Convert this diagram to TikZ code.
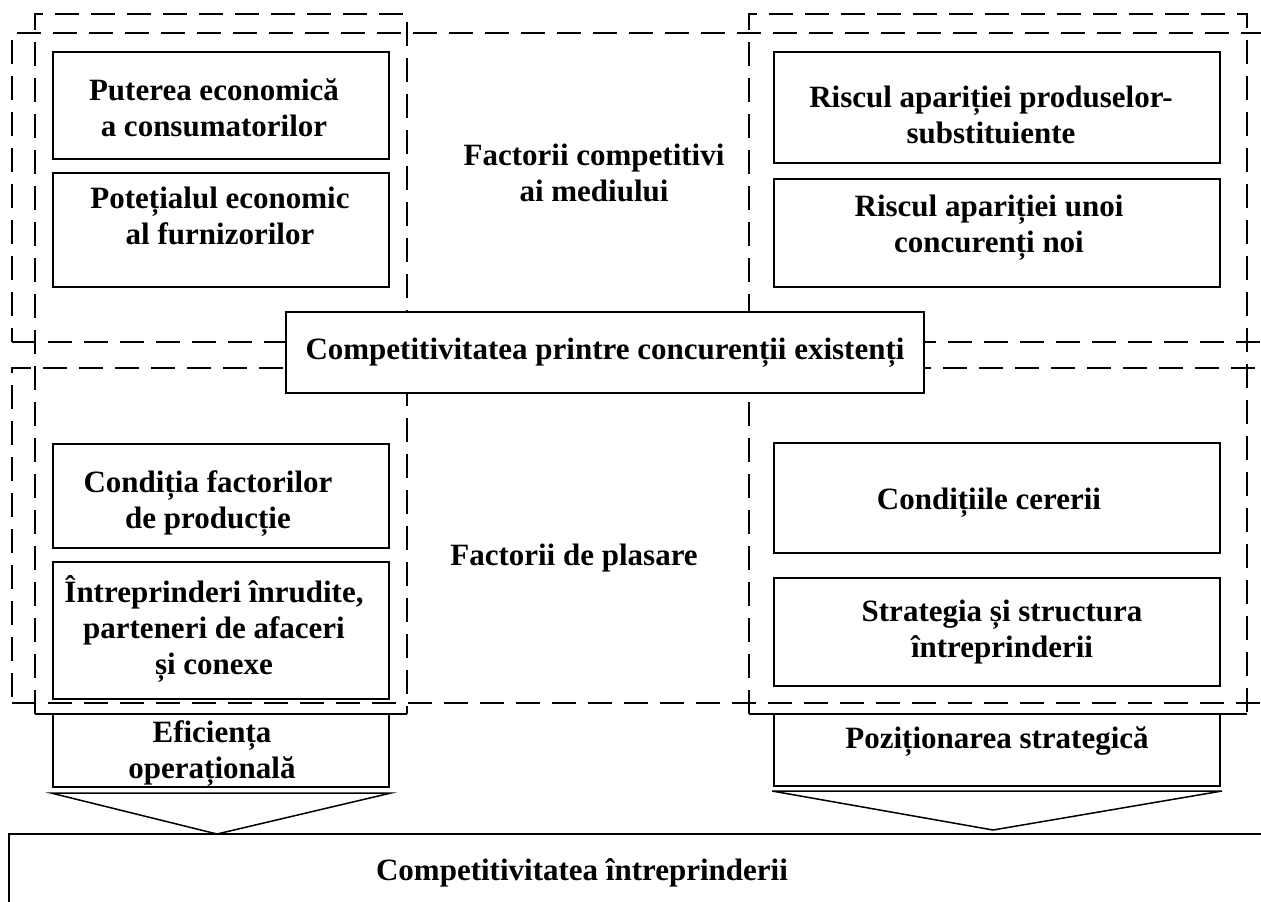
\documentclass[tikz,border=0pt]{standalone}
\usepackage{fontspec}
\setmainfont{Liberation Serif}
\usetikzlibrary{calc}
\newcommand\mlines[1]{\begin{tabular}[t]{@{}c@{}}#1\end{tabular}}
\tikzset{
  boxst/.style={draw, line width=1.6pt, fill=white, rectangle, inner sep=0pt, outer sep=0pt, anchor=north west},
  dashline/.style={line width=1.4pt, dash pattern=on 24pt off 12pt},
  solidline/.style={line width=1.6pt},
  txt/.style={font=\fontsize{31}{36}\selectfont\bfseries, inner sep=0pt, anchor=base},
  chev/.style={line width=1.5pt, fill=white, line join=miter},
}
\newcommand\mkbox[5]{\node[boxst, minimum width={(#4-#2)*1pt}, minimum height={(#5-#3)*1pt}] (#1) at (#2,#3) {};}
\begin{document}
\begin{tikzpicture}[x=1pt,y=-1pt]
\clip (0,0) rectangle (1261,902);
\fill[white] (0,0) rectangle (1261,902);
% horizontal dashed zones
\node[draw, dashline, rectangle, inner sep=0pt, outer sep=0pt, anchor=north west, minimum width=1300pt, minimum height=309pt] (zonetop) at (12,33) {};
\node[draw, dashline, rectangle, inner sep=0pt, outer sep=0pt, anchor=north west, minimum width=1300pt, minimum height=335pt] (zonebot) at (12,368) {};
% vertical columns
\coordinate (lcolbl) at (35,714);
\coordinate (lcoltl) at (35,14);
\coordinate (lcoltr) at (407,14);
\coordinate (lcolbr) at (407,714);
\draw[dashline] (lcolbl) -- (lcoltl) -- (lcoltr) -- (lcolbr);
\draw[solidline] (lcolbl) -- (lcolbr);
\coordinate (rcolbl) at (749,714);
\coordinate (rcoltl) at (749,14);
\coordinate (rcoltr) at (1247,14);
\coordinate (rcolbr) at (1247,714);
\draw[dashline] (rcolbl) -- (rcoltl) -- (rcoltr) -- (rcolbr);
\draw[solidline] (rcolbl) -- (rcolbr);
% boxes
\mkbox{b1}{53}{52}{389}{159}
\mkbox{b2}{53}{173}{389}{287}
\mkbox{b3}{774}{52}{1220}{163}
\mkbox{b4}{774}{179}{1220}{287}
\mkbox{b5}{53}{444}{389}{548}
\mkbox{b6}{53}{562}{389}{699}
\mkbox{b7}{774}{443}{1220}{553}
\mkbox{b8}{774}{578}{1220}{686}
\mkbox{eff}{53}{714}{389}{787}
\mkbox{poz}{774}{714}{1220}{786}
\mkbox{bot}{9}{834}{1320}{960}
\node[boxst, anchor=center, minimum width=638pt, minimum height=81pt, font=\fontsize{31}{36}\selectfont\bfseries] (mid) at (605,352.5) {Competitivitatea printre concurenții existenți};
% chevron arrows
\draw[chev] ([shift={(-2,6)}]eff.south west) -- ([shift={(2,6)}]eff.south east) -- ([shift={(-4,0)}]eff.south |- bot.north) -- cycle;
\draw[chev] ([shift={(-2,5)}]poz.south west) -- ([shift={(2,5)}]poz.south east) -- ([shift={(-4,-4)}]poz.south |- bot.north) -- cycle;
% texts
\node[txt] (t1) at (214,100) {\mlines{Puterea economică\\a consumatorilor}};
\node[txt] (t2) at (220,208) {\mlines{Potețialul economic\\al furnizorilor}};
\node[txt] (t3) at (991,107) {\mlines{Riscul apariției produselor-\\substituiente}};
\node[txt] (t4) at (989,216) {\mlines{Riscul apariției unoi\\concurenți noi}};
\node[txt] (tfc) at (594,165) {\mlines{Factorii competitivi\\ai mediului}};
\node[txt] (t5) at (208,492) {\mlines{Condiția factorilor\\de producție}};
\node[txt] (t6) at (214,602) {\mlines{Întreprinderi înrudite,\\parteneri de afaceri\\și conexe}};
\node[txt] (tfp) at (574,565) {Factorii de plasare};
\node[txt] (t7) at (989,509) {Condițiile cererii};
\node[txt] (t8) at (1002,621) {\mlines{Strategia și structura\\întreprinderii}};
\node[txt] (t9) at (212,742) {\mlines{Eficiența\\operațională}};
\node[txt] (t10) at (997,748) {Poziționarea strategică};
\node[txt] (t11) at (582,880) {Competitivitatea întreprinderii};
\end{tikzpicture}
\end{document}
